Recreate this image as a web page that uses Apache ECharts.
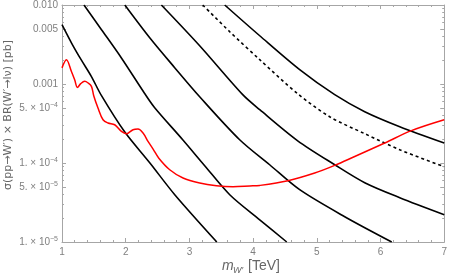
<!DOCTYPE html>
<html><head><meta charset="utf-8">
<script src="https://cdn.jsdelivr.net/npm/echarts@6/dist/echarts.min.js"></script>
<style>html,body{margin:0;padding:0;background:#fff}#c{width:450px;height:279px}</style>
</head><body><div id="c"></div>
<script>
// ---- data (x in TeV, y in pb) ----
const c1x = [1.0, 1.15, 1.3, 1.46, 1.62, 1.98, 2.38, 2.77, 3.43];
const c1y = [5.64e-3, 3.30e-3, 2.03e-3, 1.25e-3, 7.11e-4, 2.5e-4, 1.0e-4, 3.97e-5, 1.0e-5];
const c2x = [1.345, 1.62, 1.93, 2.30, 2.455, 2.895, 3.24, 3.633, 4.104, 4.528];
const c2y = [0.01, 4.87e-3, 2.15e-3, 7.53e-4, 5.01e-4, 1.97e-4, 9.25e-5, 3.97e-5, 1.91e-5, 1.0e-5];
const c3x = [1.986, 2.377, 2.769, 3.161, 3.789, 4.26, 4.731, 5.438, 6.176];
const c3y = [0.01, 3.85e-3, 1.61e-3, 6.90e-4, 1.97e-4, 9.5e-5, 4.59e-5, 2.09e-5, 1.0e-5];
const c4x = [2.56, 3.161, 3.837, 4.104, 4.70, 5.281, 5.752, 6.302, 7.0];
const c4y = [0.01, 3.05e-3, 7.33e-4, 4.73e-4, 1.91e-4, 9.51e-5, 5.63e-5, 3.64e-5, 2.22e-5];
const c5x = [3.554, 4.104, 4.731, 5.281, 5.752, 6.302, 7.0];
const c5y = [0.01, 4.08e-3, 1.52e-3, 7.33e-4, 4.46e-4, 2.88e-4, 1.79e-4];
const dashX = [3.209, 3.633, 4.104, 4.70, 5.202, 5.752, 6.302, 7.0];
const dashY = [0.01, 4.59e-3, 2.03e-3, 7.53e-4, 3.85e-4, 2.35e-4, 1.47e-4, 8.97e-5];
const redX = [1.0, 1.069, 1.148, 1.199, 1.242, 1.294, 1.356, 1.41, 1.462, 1.498, 1.565, 1.644, 1.722, 1.827, 1.933, 2.011, 2.115, 2.193, 2.272, 2.35, 2.43, 2.52, 2.691, 2.90, 3.162, 3.424, 3.684, 3.947, 4.104, 4.548, 4.967, 5.281, 5.595, 6.066, 6.485, 7.0];
const redY = [1.60e-3, 2.03e-3, 1.44e-3, 1.13e-3, 9.06e-4, 1.01e-3, 1.08e-3, 1.03e-3, 9.33e-4, 7.11e-4, 4.97e-4, 3.53e-4, 3.21e-4, 3.05e-4, 2.51e-4, 2.35e-4, 2.64e-4, 2.69e-4, 2.40e-4, 1.88e-4, 1.5e-4, 1.15e-4, 8.22e-5, 6.46e-5, 5.58e-5, 5.16e-5, 5.01e-5, 5.12e-5, 5.20e-5, 5.97e-5, 7.46e-5, 9.33e-5, 1.21e-4, 1.79e-4, 2.57e-4, 3.53e-4];

const yTickValues = [1e-5, 5e-5, 1e-4, 5e-4, 1e-3, 5e-3, 1e-2];
const yTickMant = ['1. \u00d7 10', '5. \u00d7 10', '1. \u00d7 10', '5. \u00d7 10', '0.001', '0.005', '0.010'];
const yTickExp = ['\u22125', '\u22125', '\u22124', '\u22124', '', '', ''];
const xTitle = ['m', 'W\u2032', '[TeV]'];
const yTitle = '\u03c3(pp\u2192W\u2032) \u00d7 BR(W\u2032\u2192l\u03bd) [pb]';

// minor tick positions on log axis (2..9 per decade, excluding labelled 5s)
const yMinor = [];
for (let e = -5; e < -2; e++) {
  for (let m = 2; m <= 9; m++) {
    if (m !== 5) yMinor.push(+(m * Math.pow(10, e)).toPrecision(3));
  }
}

const zip = (xs, ys) => xs.map((x, i) => [x, ys[i]]);

const AX = '#a6a6a6';
const LBL = '#7f7f7f';
const FONT = 'Liberation Sans';

function yAx(pos, major) {
  return {
    type: 'log', logBase: 10, min: 1e-5, max: 1e-2, position: pos,
    axisLine: { show: major, lineStyle: { color: AX, width: 1 } },
    splitLine: { show: false },
    axisTick: { show: true, inside: true, length: major ? 4 : 2, customValues: major ? yTickValues : yMinor, lineStyle: { color: AX } },
    axisLabel: {
      show: major && pos === 'left', customValues: yTickValues, color: LBL, fontSize: 10, fontFamily: FONT, margin: 4,
      formatter: function (v) {
        let best = 0, bd = 1e9;
        yTickValues.forEach((t, i) => { const d = Math.abs(Math.log10(v) - Math.log10(t)); if (d < bd) { bd = d; best = i; } });
        return yTickExp[best] ? '{a|' + yTickMant[best] + '}{s|' + yTickExp[best] + '}' : '{a|' + yTickMant[best] + '}';
      },
      rich: {
        a: { fontSize: 10, color: LBL, fontFamily: FONT, lineHeight: 13 },
        s: { fontSize: 7, color: LBL, fontFamily: FONT, verticalAlign: 'top', lineHeight: 8 }
      }
    }
  };
}
function xAx(pos) {
  return {
    type: 'value', min: 1, max: 7, interval: 1, position: pos,
    axisLine: { show: true, lineStyle: { color: AX, width: 1 } },
    splitLine: { show: false },
    axisTick: { show: true, inside: true, length: 4, lineStyle: { color: AX } },
    minorTick: { show: true, splitNumber: 5, length: 2, lineStyle: { color: AX } },
    axisLabel: { show: pos === 'bottom', color: LBL, fontSize: 10, fontFamily: FONT, margin: 5 }
  };
}

const black = (name, xs, ys, dashed) => ({
  name, type: 'line', xAxisIndex: 0, yAxisIndex: 0, data: zip(xs, ys), showSymbol: false, symbol: 'none',
  smooth: 0.3, clip: true,
  lineStyle: { color: '#000', width: 1.6, type: dashed ? [3, 3] : 'solid' }, z: 3
});

const chart = echarts.init(document.getElementById('c'), null, { renderer: 'canvas' });
chart.setOption({
  animation: false,
  backgroundColor: '#fff',
  grid: { left: 62, right: 5, top: 5, bottom: 37, containLabel: false },
  xAxis: [xAx('bottom'), xAx('top')],
  yAxis: [yAx('left', true), yAx('left', false), yAx('right', true), yAx('right', false)],
  series: [
    black('c1', c1x, c1y),
    black('c2', c2x, c2y),
    black('c3', c3x, c3y),
    black('c4', c4x, c4y),
    black('c5', c5x, c5y),
    black('dashed', dashX, dashY, true),
    {
      name: 'red', type: 'line', xAxisIndex: 0, yAxisIndex: 0, data: zip(redX, redY), showSymbol: false, symbol: 'none',
      smooth: 0.35, clip: true, lineStyle: { color: '#ff0000', width: 1.5 }, z: 4
    }
  ],
  graphic: [
    { type: 'text', left: 222, top: 259, style: { text: xTitle[0], fill: '#666', font: 'italic 14px "Liberation Sans"' } },
    { type: 'text', left: 233, top: 266, style: { text: xTitle[1], fill: '#666', font: 'italic 9px "Liberation Sans"' } },
    { type: 'text', left: 248, top: 259, style: { text: xTitle[2], fill: '#666', font: '14px "Liberation Sans"' } },
    { type: 'text', x: 8, y: 115, rotation: Math.PI / 2,
      style: { text: yTitle, fill: '#666', font: '11px "DejaVu Sans"', textAlign: 'center', textVerticalAlign: 'middle' } }
  ]
});
</script></body></html>
